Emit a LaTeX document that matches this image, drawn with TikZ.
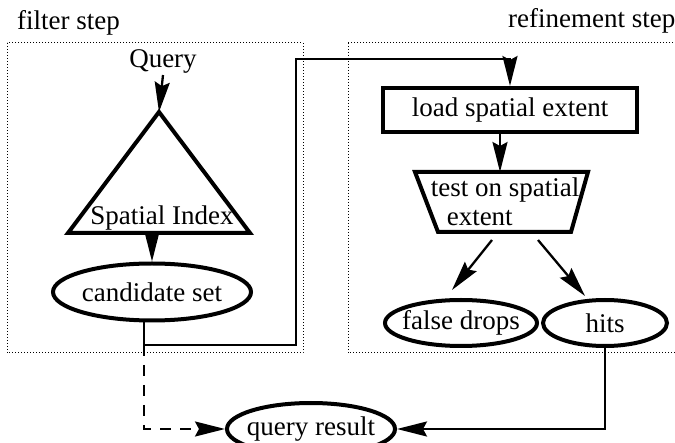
\documentclass[tikz,border=0pt]{standalone}
\usepackage{fontspec}
\setmainfont{Liberation Serif}
\usetikzlibrary{arrows.meta,shapes.geometric}
\begin{document}
\begin{tikzpicture}[x=1pt,y=-1pt,font=\fontsize{27}{29}\selectfont]
    \tikzset{cadre/.style={line width=1pt, dash pattern=on 1pt off 2pt}}
    \tikzset{forme/.style={draw, line width=4pt}}
    \tikzset{bulle/.style={forme, ellipse, inner xsep=-10pt, inner ysep=0pt}}
    \tikzset{texte/.style={inner sep=1pt}}
    \tikzset{lien/.style={line width=2.3pt, -{Stealth[length=30pt,width=15pt,inset=4pt]}}}
    \useasboundingbox (0,0) rectangle (675,443);
    % les deux etapes
    \draw[cadre] (7,43) rectangle (303,353);
    \draw[cadre] (348,43) rectangle (700,353);
    \node[texte, anchor=base west] (FS) at (16,30) {filter step};
    \node[texte, anchor=base west] (RS) at (507,28) {refinement step};
    % filtre
    \node[texte, anchor=base] (Q) at (163,68) {Query};
    \coordinate (A) at (159,112);
    \coordinate (IL) at (68,233);
    \coordinate (IR) at (250,233);
    \coordinate (IB) at (152,233);
    \draw[forme] (A) -- (IL) -- (IR) -- cycle;
    \node[texte, anchor=base] (I) at (162,225) {Spatial Index};
    \node[bulle, minimum width=198pt, minimum height=57pt] (C) at (152,292) {candidate set};
    \draw[lien] (Q.south) -- (A);
    \draw[lien] (IB) -- (C.north);
    % raffinement
    \node[forme, rectangle, minimum width=254pt, minimum height=44pt] (L) at (510,110) {load spatial extent};
    \coordinate (TL) at (415,172);
    \coordinate (TR) at (588,172);
    \coordinate (BR) at (571,232);
    \coordinate (BL) at (438,232);
    \coordinate (TM) at (500,172);
    \draw[forme] (TL) -- (TR) -- (BR) -- (BL) -- cycle;
    \node[texte, align=left] (T) at (505,202) {test on spatial\\\hspace*{16pt}extent};
    \node[bulle, minimum width=152pt, minimum height=46pt] (FD) at (461,323) {false drops};
    \node[bulle, minimum width=124pt, minimum height=46pt] (H) at (605,323) {hits};
    \coordinate (G1) at (492,240);
    \coordinate (G2) at (452,290);
    \coordinate (D1) at (538,240);
    \coordinate (D2) at (585,296);
    \draw[lien] (L.south -| TM) -- (TM);
    \draw[lien] (G1) -- (G2);
    \draw[lien] (D1) -- (D2);
    % resultat
    \node[bulle, minimum width=168pt, minimum height=52pt] (R) at (311,429) {query result};
    \coordinate (S) at (144,345);
    \coordinate (U) at (296,59);
    \draw[lien] (C.south -| S) -- (S) -| (U) -| (L.north);
    \draw[lien, dash pattern=on 11pt off 9pt] (S) |- (R.west);
    \draw[lien] (H.south) |- (R.east);
\end{tikzpicture}
\end{document}
